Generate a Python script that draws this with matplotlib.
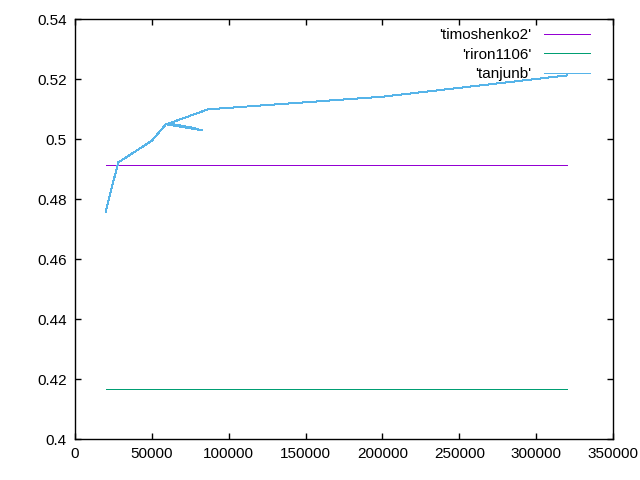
import matplotlib
matplotlib.use("Agg")
import matplotlib.pyplot as plt
from matplotlib.ticker import FuncFormatter, MultipleLocator

plt.rcParams['font.family'] = ['Liberation Sans', 'DejaVu Sans']

# data
timoshenko_x = [20000, 320000]
timoshenko_y = [0.4915, 0.4915]

riron_x = [20000, 320000]
riron_y = [0.4166, 0.4166]

tanjunb_x = [20000, 28200, 50000, 59200, 83000, 62000, 78000, 60000, 86700, 200000, 320000]
tanjunb_y = [0.4758, 0.4922, 0.4994, 0.5049, 0.5029, 0.5051, 0.5036, 0.5050, 0.5099, 0.5141, 0.5212]

fig = plt.figure(figsize=(6.4, 4.8), dpi=100)
ax = fig.add_axes([0.117, 0.0854, 0.841, 0.875])

ax.plot(timoshenko_x, timoshenko_y, color='#9400D3', lw=0.72, label="'timoshenko2'", antialiased=False)
ax.plot(riron_x, riron_y, color='#009E73', lw=0.72, label="'riron1106'", antialiased=False)
ax.plot(tanjunb_x, tanjunb_y, color='#56B4E9', lw=0.72, label="'tanjunb'", antialiased=False)

ax.set_xlim(0, 350000)
ax.set_ylim(0.4, 0.54)
ax.xaxis.set_major_locator(MultipleLocator(50000))
ax.yaxis.set_major_locator(MultipleLocator(0.02))
ax.yaxis.set_major_formatter(FuncFormatter(lambda v, p: '%g' % round(v, 4)))
ax.xaxis.set_major_formatter(FuncFormatter(lambda v, p: '%d' % v))
ax.tick_params(direction='in', length=4.5, width=1, top=True, right=True,
               labelsize=11, pad=6)
for s in ax.spines.values():
    s.set_linewidth(1.0)

ax.legend(loc='upper right', bbox_to_anchor=(0.968, 0.993), borderaxespad=0,
          frameon=False, markerfirst=False, fontsize=11,
          handlelength=3.0, handletextpad=0.8, labelspacing=0.36)

fig.savefig('out.png', dpi=100)
